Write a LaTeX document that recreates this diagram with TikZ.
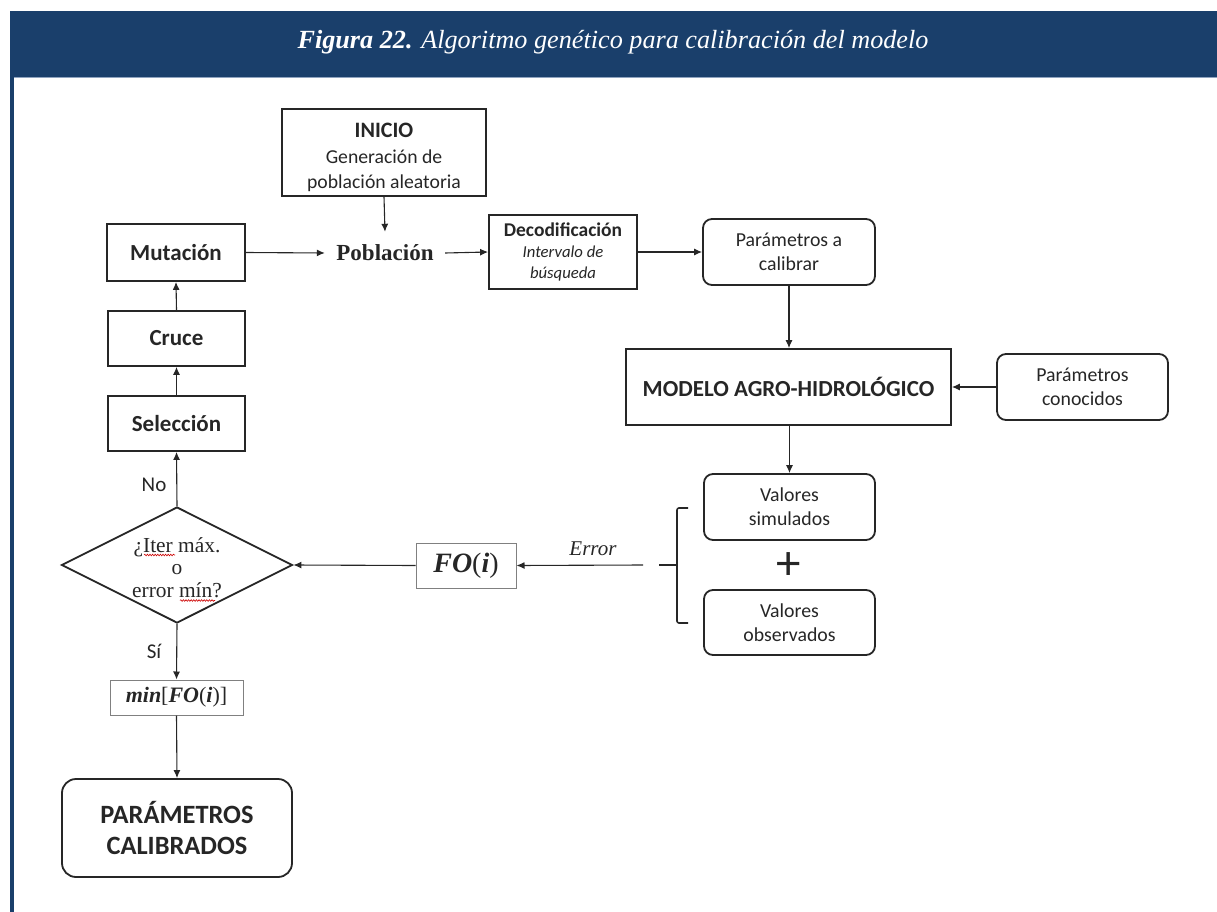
\documentclass[tikz,border=0pt]{standalone}
\usepackage{fontspec}
\setmainfont{Carlito}
\newfontfamily\serifface{Liberation Serif}
\usetikzlibrary{arrows.meta,shapes.geometric,decorations.pathmorphing}

\definecolor{navy}{HTML}{1A3F6B}
\definecolor{navyedge}{HTML}{8FA3BF}
\definecolor{ink}{HTML}{262626}

\tikzset{
  box/.style={draw=ink, line width=1.8pt, rectangle, inner sep=0pt, align=center, text=ink},
  rbox/.style={box, rounded corners=9pt},
  thinbox/.style={draw=black!50, line width=1pt, rectangle, inner sep=0pt, align=center, text=ink},
  arr/.style={-{Latex[length=8pt,width=7pt]}, line width=1.1pt, draw=ink},
  lbl/.style={text=ink, inner sep=0pt},
  squiggle/.style={red!80!black, line width=0.6pt, decorate,
    decoration={snake, amplitude=0.8pt, segment length=2.6pt}},
}

\begin{document}
\begin{tikzpicture}[x=1pt, y=-1pt]
\useasboundingbox (0,0) rectangle (1217,912);

% header band and side rule
\fill[navy] (10,11) rectangle (1217,77);
\draw[navyedge, line width=0.8pt] (10,77) -- (1217,77);
\fill[navy] (10,77) rectangle (14,912);
\node[text=white, inner sep=0pt] (title) at (613,42)
  {\serifface\itshape\fontsize{26.2}{30}\selectfont\textbf{Figura 22.} Algoritmo genético para calibración del modelo};

% main loop of the genetic algorithm
\node[box, minimum width=204pt, minimum height=87pt,
      font=\fontsize{19.7}{25.5}\selectfont] (inicio) at (384,152.5)
  {\rule{0pt}{25pt}{\bfseries\fontsize{22}{25.5}\selectfont INICIO}\\Generación de\\población aleatoria};
\node[lbl, minimum width=120pt, minimum height=42pt,
      font=\serifface\bfseries\fontsize{23}{27}\selectfont] (pob) at (385,253) {Población};
\node[box, minimum width=138pt, minimum height=57pt,
      font=\bfseries\fontsize{23}{27}\selectfont] (mut) at (176,252.5) {Mutación};
\node[box, minimum width=148pt, minimum height=74pt,
      font=\fontsize{16.7}{21}\selectfont] (deco) at (563,252)
  {{\bfseries\fontsize{19.5}{21}\selectfont Decodificación}\\\itshape Intervalo de\\\itshape búsqueda};
\node[rbox, minimum width=172pt, minimum height=66pt,
      font=\fontsize{19.8}{24}\selectfont] (pcal) at (789,252) {Parámetros a\\calibrar};
\node[box, minimum width=325pt, minimum height=76pt,
      font=\bfseries\fontsize{23}{27}\selectfont] (modelo) at (788.5,387) {MODELO AGRO-HIDROLÓGICO};
\node[rbox, minimum width=171pt, minimum height=66pt,
      font=\fontsize{19.8}{24}\selectfont] (pcon) at (1082.5,387) {Parámetros\\conocidos};
\node[rbox, minimum width=171pt, minimum height=66pt,
      font=\fontsize{19.8}{24}\selectfont] (vsim) at (789.5,507) {Valores\\simulados};
\node[lbl, font=\fontsize{49}{49}\selectfont] (plus) at (789,566) {+};
\node[rbox, minimum width=171pt, minimum height=65pt,
      font=\fontsize{19.8}{24}\selectfont] (vobs) at (789.5,622.5) {Valores\\observados};

\node[thinbox, minimum width=100pt, minimum height=45pt,
      font=\serifface\fontsize{28}{30}\selectfont] (fo) at (466,565.5)
  {\textbf{\textit{FO}}(\textbf{\textit{i}})};
\node[lbl, font=\serifface\itshape\fontsize{21}{24}\selectfont] (err) at (593,549) {Error};

\node[diamond, draw=ink, line width=1.8pt, aspect=2, inner sep=0pt,
      minimum width=231pt, minimum height=116pt, align=center, text=ink,
      font=\serifface\fontsize{21.4}{22.5}\selectfont] (dia) at (177,565)
  {\rule{0pt}{20pt}¿Iter máx.\\o\\error mín?};

\node[box, minimum width=137pt, minimum height=55pt,
      font=\bfseries\fontsize{23}{27}\selectfont] (sel) at (176.5,423.5) {Selección};
\node[box, minimum width=137pt, minimum height=55pt,
      font=\bfseries\fontsize{23}{27}\selectfont] (cru) at (176.5,338.5) {Cruce};

\node[thinbox, minimum width=133pt, minimum height=35pt,
      font=\serifface\fontsize{22}{24}\selectfont] (minb) at (176.5,697.5)
  {\textbf{\textit{min}}[\textbf{\textit{FO}}(\textbf{\textit{i}})]};
\node[rbox, rounded corners=14pt, minimum width=230pt, minimum height=98pt,
      font=\bfseries\fontsize{26.4}{31}\selectfont] (pcalb) at (177,828) {PARÁMETROS\\CALIBRADOS};

\node[lbl, font=\fontsize{21}{24}\selectfont] (no) at (154,485) {No};
\node[lbl, font=\fontsize{21}{24}\selectfont] (si) at (154,651) {Sí};

% spell-check marks under two words of the decision
\draw[squiggle] (144,555) -- (175,555);
\draw[squiggle] (180,600.5) -- (215,600.5);

% connectors
\draw[arr] (inicio.south) -- (pob.north);
\draw[arr] (mut.east) -- (pob.west);
\draw[arr] (pob.east) -- (deco.west);
\draw[arr] (deco.east) -- (pcal.west);
\draw[arr] (pcal.south) -- (pcal.south |- modelo.north);
\draw[arr] (pcon.west) -- (modelo.east);
\draw[arr] (vsim.north |- modelo.south) -- (vsim.north);

% bracket joining simulated and observed values
\coordinate (brk) at (677,565);
\coordinate (errend) at (643,565);
\draw[ink, line width=1.6pt, rounded corners=2pt]
  (688,508) -- (677,508) -- (677,623) -- (688,623);
\draw[ink, line width=1.6pt] (brk) -- (659,565);
\draw[arr] (errend) -- (fo.east);
\draw[arr] (fo.west) -- (dia.east);

\draw[arr] (dia.north) -- (sel.south);
\draw[arr] (sel.north) -- (cru.south);
\draw[arr] (cru.north) -- (mut.south);
\draw[arr] (dia.south) -- (minb.north);
\draw[arr] (minb.south) -- (pcalb.north);
\end{tikzpicture}
\end{document}
